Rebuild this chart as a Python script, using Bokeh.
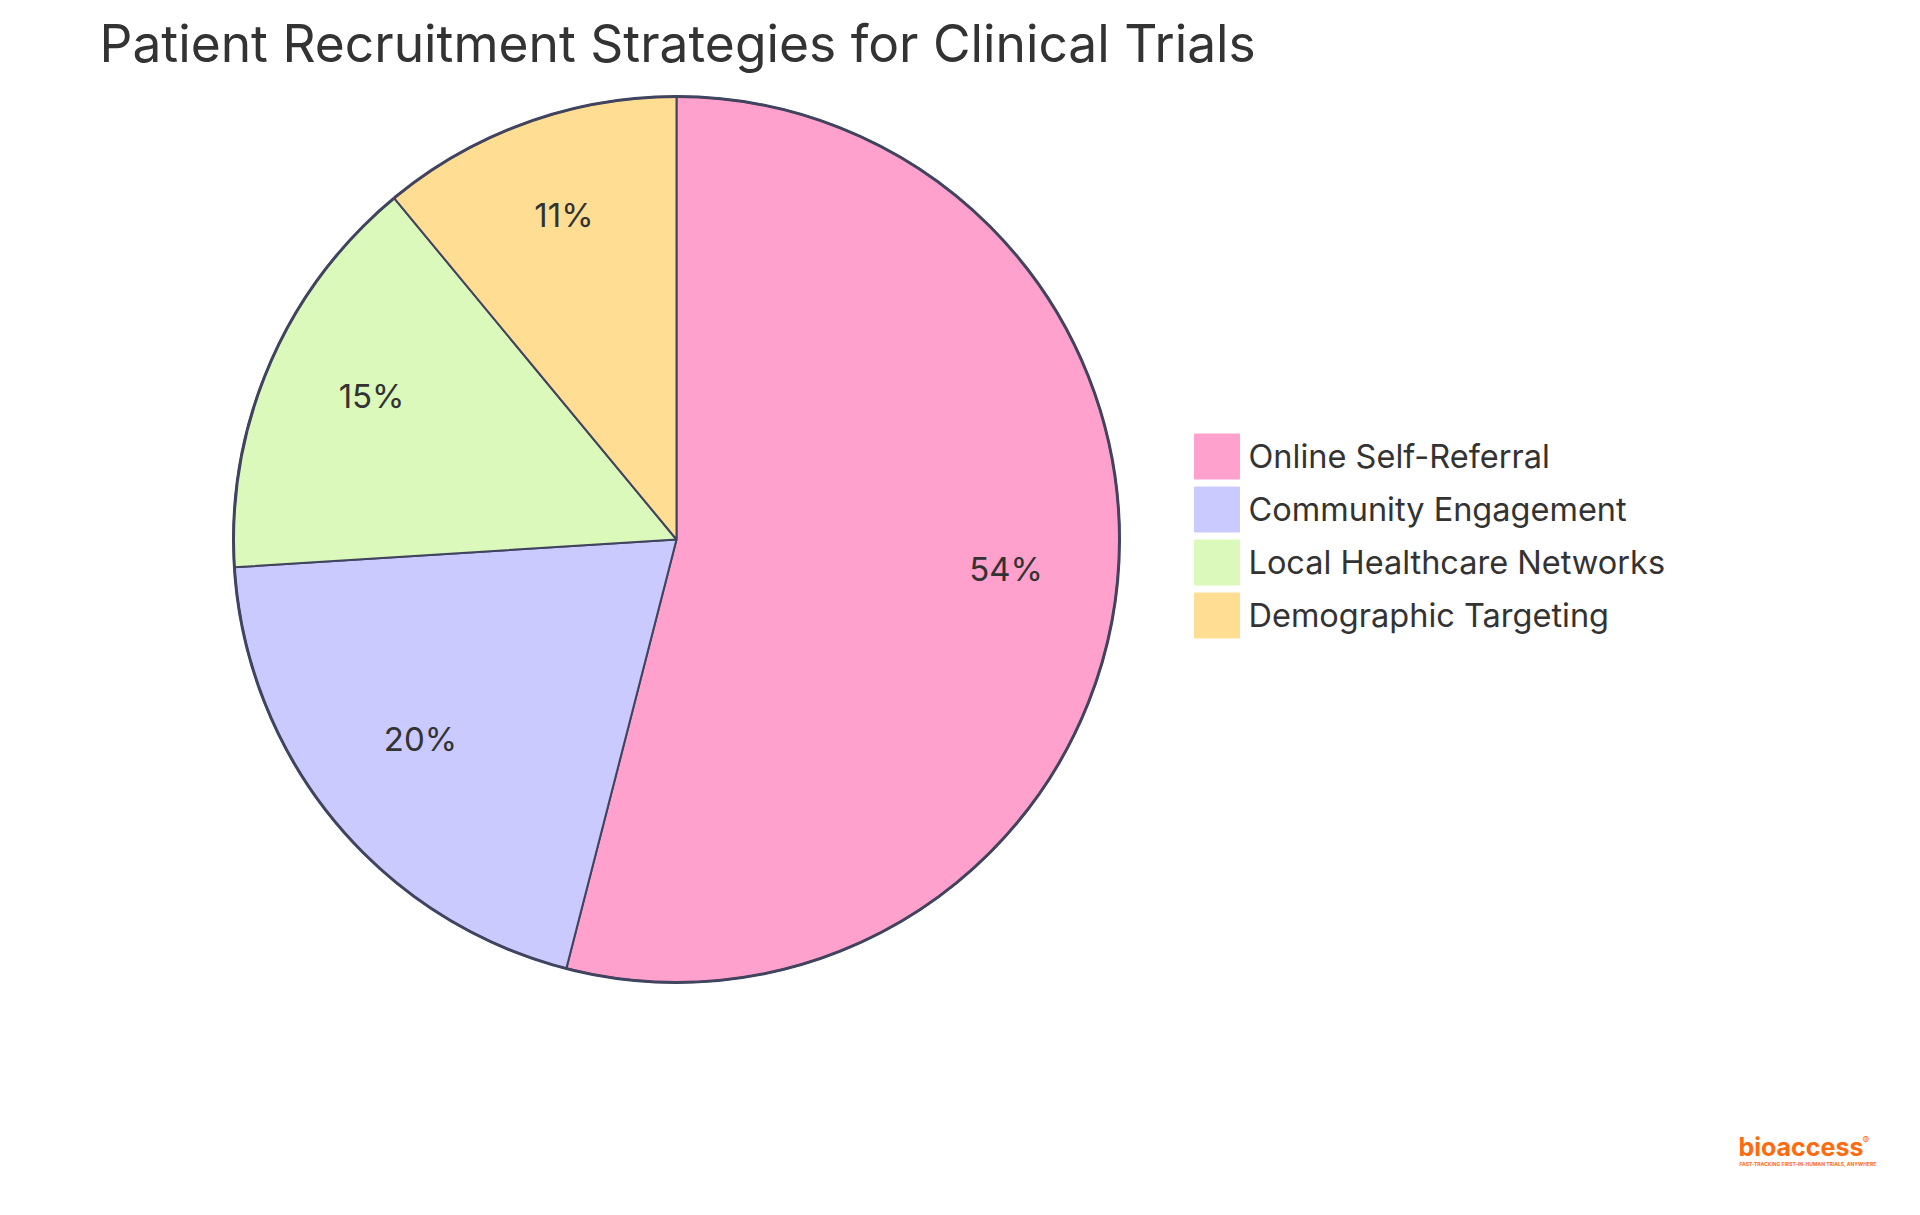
import numpy as np
from bokeh.plotting import figure
from bokeh.models import Range1d
from bokeh.core.properties import value
from bokeh.embed import file_html
from bokeh.resources import INLINE

title_text = "Patient Recruitment Strategies for Clinical Trials"
categories = ["Online Self-Referral", "Community Engagement",
              "Local Healthcare Networks", "Demographic Targeting"]
values = [54, 20, 15, 11]
colors = ["#ffa1cc", "#cacaff", "#dbf9bb", "#ffde94"]

W, H = 1904, 1199
FONT = "Inter"
TXT = "#333333"
STROKE = "#40445f"

# data coords == reference pixel coords (y flipped)
p = figure(width=W, height=H, output_backend="svg", toolbar_location=None,
           x_range=Range1d(0, W), y_range=Range1d(1215 - H, 1215),
           min_border=0, outline_line_color=None)
p.axis.visible = False
p.grid.visible = False
p.background_fill_color = "white"
p.border_fill_color = "white"

def Y(py):
    return 1215 - py

cx, cy, r = 676, Y(539), 443

vals = np.array(values, dtype=float)
frac = vals / vals.sum()
cum = np.concatenate([[0], np.cumsum(frac)])
start = np.pi / 2 - cum[:-1] * 2 * np.pi
end = np.pi / 2 - cum[1:] * 2 * np.pi
mid = (start + end) / 2

p.wedge(x=cx, y=cy, radius=r, radius_units="screen",
        start_angle=list(start), end_angle=list(end), direction="clock",
        fill_color=colors, line_color=STROKE, line_width=2)
p.scatter(x=[cx], y=[cy], size=2 * r, marker="circle", fill_color=None,
          line_color=STROKE, line_width=3)

# percentage labels: baseline sits at 0.75 * radius along the mid angle
labels = [f"{round(f * 100)}%" for f in frac]
p.text(x=list(cx + 0.75 * r * np.cos(mid)), y=list(cy + 0.75 * r * np.sin(mid)),
       text=labels, text_font=value(FONT), text_font_size="33px",
       text_color=TXT, text_align="center", text_baseline="middle",
       y_offset=-12)

# title
p.text(x=[99], y=[Y(42)], text=[title_text], text_font=value(FONT),
       text_font_size="51.5px", text_color=TXT, text_align="left",
       text_baseline="middle")

# legend
ly = [Y(456 + 53 * i) for i in range(len(categories))]
p.rect(x=[1216.5] * len(categories), y=ly, width=45, height=45,
       width_units="screen", height_units="screen",
       fill_color=colors, line_color=colors, line_width=1)
p.text(x=[1248] * len(categories), y=ly, text=categories, text_font=value(FONT),
       text_font_size="32.5px", text_color=TXT, text_align="left",
       text_baseline="middle")

# logo
p.text(x=[1738], y=[Y(1146)], text=["bioaccess"], text_font=value(FONT),
       text_font_size="25px", text_font_style="bold", text_color="#ff6b0f",
       text_align="left", text_baseline="middle")
p.text(x=[1862], y=[Y(1139)], text=["®"], text_font=value(FONT),
       text_font_size="10px", text_color="#ff6b0f", text_align="left",
       text_baseline="middle")
p.text(x=[1739], y=[Y(1163)], text=["FAST-TRACKING FIRST-IN-HUMAN TRIALS, ANYWHERE"],
       text_font=value(FONT), text_font_size="5px", text_font_style="bold",
       text_color="#ff6b0f", text_align="left", text_baseline="middle")

open("out.html", "w").write(file_html(p, INLINE))
